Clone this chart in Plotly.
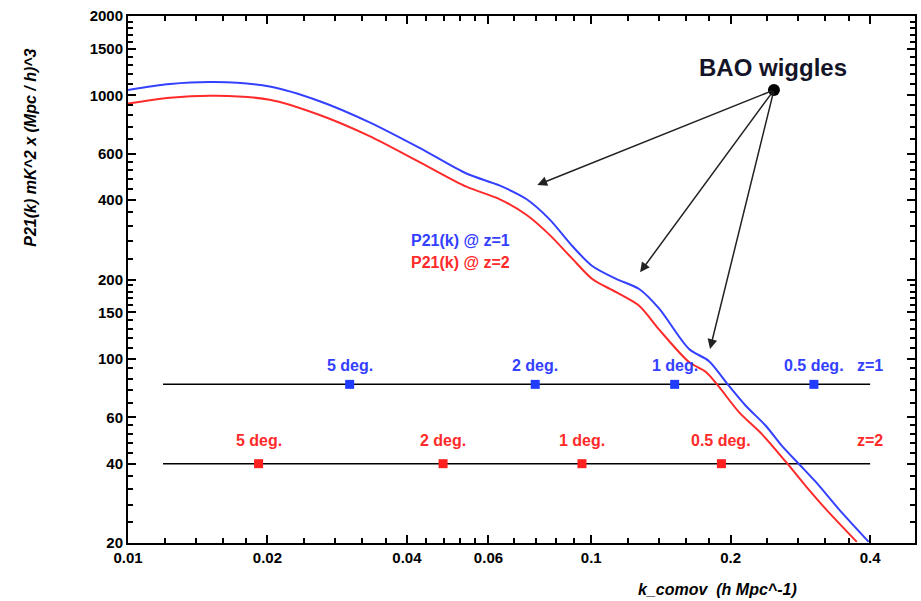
import numpy as np
import plotly.graph_objects as go

# ---- data ----
k_z1 = [0.0100, 0.01232, 0.01540, 0.02023, 0.02593, 0.03323, 0.04259, 0.05377, 0.06335,
        0.07243, 0.08120, 0.09101, 0.1005, 0.1132, 0.1269, 0.1402, 0.1626, 0.1796,
        0.1983, 0.2158, 0.2384, 0.2580, 0.2808, 0.3054, 0.3423, 0.3972]
p_z1 = [1047, 1104, 1123, 1080, 950, 790, 632, 505, 455, 404, 339, 268, 225, 201, 184,
        155, 109, 98, 78.9, 66.2, 55.6, 46.7, 39.9, 34.1, 26.9, 20.2]

k_z2 = [0.0100, 0.01232, 0.01555, 0.02023, 0.02593, 0.03323, 0.04259, 0.05377,
        0.06335, 0.07243, 0.08120, 0.09101, 0.1005, 0.1132, 0.1269, 0.1402, 0.1626,
        0.1769, 0.1888, 0.2084, 0.2336, 0.2633, 0.2906, 0.3210, 0.3744]
p_z2 = [930, 980, 996, 962, 842, 700, 558, 450, 404, 352, 296, 240, 201, 179, 159,
        129, 97.2, 89.1, 78.2, 62.8, 51.8, 40.6, 32.9, 26.9, 20.2]

deg_labels = ["5 deg.", "2 deg.", "1 deg.", "0.5 deg."]
deg_k_z1 = [0.0301, 0.0757, 0.1514, 0.3025]
deg_k_z2 = [0.01914, 0.04788, 0.0955, 0.1910]
level_z1 = 80
level_z2 = 40
line_k = [0.0119, 0.40]

bao_point = (0.248, 1047)
bao_targets = [(0.0765, 457), (0.1275, 213), (0.1805, 109)]

x_tickvals = [0.01, 0.02, 0.04, 0.06, 0.1, 0.2, 0.4]
x_ticktext = ["0.01", "0.02", "0.04", "0.06", "0.1", "0.2", "0.4"]
x_minor = [0.012, 0.014, 0.016, 0.018, 0.024, 0.028, 0.032, 0.036, 0.044, 0.048, 0.052,
           0.056, 0.068, 0.076, 0.084, 0.092, 0.12, 0.14, 0.16, 0.18, 0.24, 0.28, 0.32, 0.36]
y_tickvals = [20, 40, 60, 100, 150, 200, 400, 600, 1000, 1500, 2000]
y_ticktext = [str(v) for v in y_tickvals]
y_minor = [24, 28, 32, 36, 44, 48, 52, 56, 68, 76, 84, 92, 110, 120, 130, 140, 160, 170,
           180, 190, 240, 280, 320, 360, 440, 480, 520, 560, 680, 760, 840, 920, 1100,
           1200, 1300, 1400, 1600, 1700, 1800, 1900]

BLUE = "#3440ff"
RED = "#ff2a2a"
FONT = "Liberation Sans, Arial, sans-serif"

fig = go.Figure()

# horizontal reference lines
for lvl in (level_z1, level_z2):
    fig.add_trace(go.Scatter(x=line_k, y=[lvl, lvl], mode="lines",
                             line=dict(color="black", width=1.5), hoverinfo="skip"))

fig.add_trace(go.Scatter(x=k_z1, y=p_z1, mode="lines",
                         line=dict(color=BLUE, width=2, shape="spline", smoothing=0.8)))
fig.add_trace(go.Scatter(x=k_z2, y=p_z2, mode="lines",
                         line=dict(color=RED, width=2, shape="spline", smoothing=0.8)))

fig.add_trace(go.Scatter(x=deg_k_z1, y=[level_z1] * len(deg_k_z1), mode="markers",
                         marker=dict(symbol="square", size=9, color="#1f3cff")))
fig.add_trace(go.Scatter(x=deg_k_z2, y=[level_z2] * len(deg_k_z2), mode="markers",
                         marker=dict(symbol="square", size=9, color="#ff2020")))

fig.add_trace(go.Scatter(x=[bao_point[0]], y=[bao_point[1]], mode="markers",
                         marker=dict(size=12, color="black")))

ann = []
for lab, k in zip(deg_labels, deg_k_z1):
    ann.append(dict(x=np.log10(k), y=np.log10(level_z1), text=lab, showarrow=False,
                    xanchor="center", yanchor="middle", yshift=19,
                    font=dict(family=FONT, size=16, color=BLUE, weight="bold")))
ann.append(dict(x=np.log10(0.4), y=np.log10(level_z1), text="z=1", showarrow=False,
                xanchor="center", yanchor="middle", yshift=19,
                font=dict(family=FONT, size=16, color=BLUE, weight="bold")))
for lab, k in zip(deg_labels, deg_k_z2):
    ann.append(dict(x=np.log10(k), y=np.log10(level_z2), text=lab, showarrow=False,
                    xanchor="center", yanchor="middle", yshift=23,
                    font=dict(family=FONT, size=16, color=RED, weight="bold")))
ann.append(dict(x=np.log10(0.4), y=np.log10(level_z2), text="z=2", showarrow=False,
                xanchor="center", yanchor="middle", yshift=23,
                font=dict(family=FONT, size=16, color=RED, weight="bold")))

for kx, py in bao_targets:
    ann.append(dict(x=np.log10(kx), y=np.log10(py), ax=np.log10(bao_point[0]),
                    ay=np.log10(bao_point[1]), axref="x", ayref="y", xref="x", yref="y",
                    text="", showarrow=True, arrowhead=2, arrowsize=1.3, arrowwidth=1.5,
                    arrowcolor="#222222", standoff=0, startstandoff=0))

ann.append(dict(xref="paper", yref="paper", x=0.82, y=0.903, xanchor="center",
                yanchor="middle", text="BAO wiggles", showarrow=False,
                font=dict(family=FONT, size=24, color="#141428", weight="bold")))
ann.append(dict(xref="paper", yref="paper", x=0.357, y=0.574, xanchor="left",
                yanchor="middle", text="P21(k) @ z=1", showarrow=False,
                font=dict(family=FONT, size=16, color=BLUE, weight="bold")))
ann.append(dict(xref="paper", yref="paper", x=0.357, y=0.532, xanchor="left",
                yanchor="middle", text="P21(k) @ z=2", showarrow=False,
                font=dict(family=FONT, size=16, color=RED, weight="bold")))
ann.append(dict(xref="paper", yref="paper", x=-0.1248, y=0.7495, textangle=-90,
                xanchor="center", yanchor="middle",
                text="<b><i>P21(k) mK^2 x (Mpc / h)^3</i></b>", showarrow=False,
                font=dict(family=FONT, size=16, color="black")))
ann.append(dict(xref="paper", yref="paper", x=0.749, y=-0.089, xanchor="center",
                yanchor="middle",
                text="<b><i>k_comov\u00a0\u00a0(h Mpc^-1)</i></b>", showarrow=False,
                font=dict(family=FONT, size=16, color="black")))

axis_common = dict(showline=True, linecolor="black", linewidth=2, mirror="allticks",
                   ticks="inside", ticklen=8, tickwidth=1.5, tickcolor="black",
                   showgrid=False, zeroline=False,
                   tickfont=dict(family=FONT, size=15, color="black", weight="bold"))

fig.update_layout(
    width=921, height=601,
    margin=dict(l=128, r=4, t=16, b=58),
    paper_bgcolor="white", plot_bgcolor="white",
    showlegend=False,
    annotations=ann,
    xaxis=dict(type="log", range=[-2, np.log10(0.5)], tickmode="array",
               tickvals=x_tickvals, ticktext=x_ticktext,
               minor=dict(tickmode="array", tickvals=x_minor, ticks="inside", ticklen=5,
                          tickwidth=1.5, tickcolor="black", showgrid=False),
               **axis_common),
    yaxis=dict(type="log", range=[np.log10(20), np.log10(2000)], tickmode="array",
               tickvals=y_tickvals, ticktext=y_ticktext,
               minor=dict(tickmode="array", tickvals=y_minor, ticks="inside", ticklen=5,
                          tickwidth=1.5, tickcolor="black", showgrid=False),
               **axis_common),
)

fig.write_html("out.html")
